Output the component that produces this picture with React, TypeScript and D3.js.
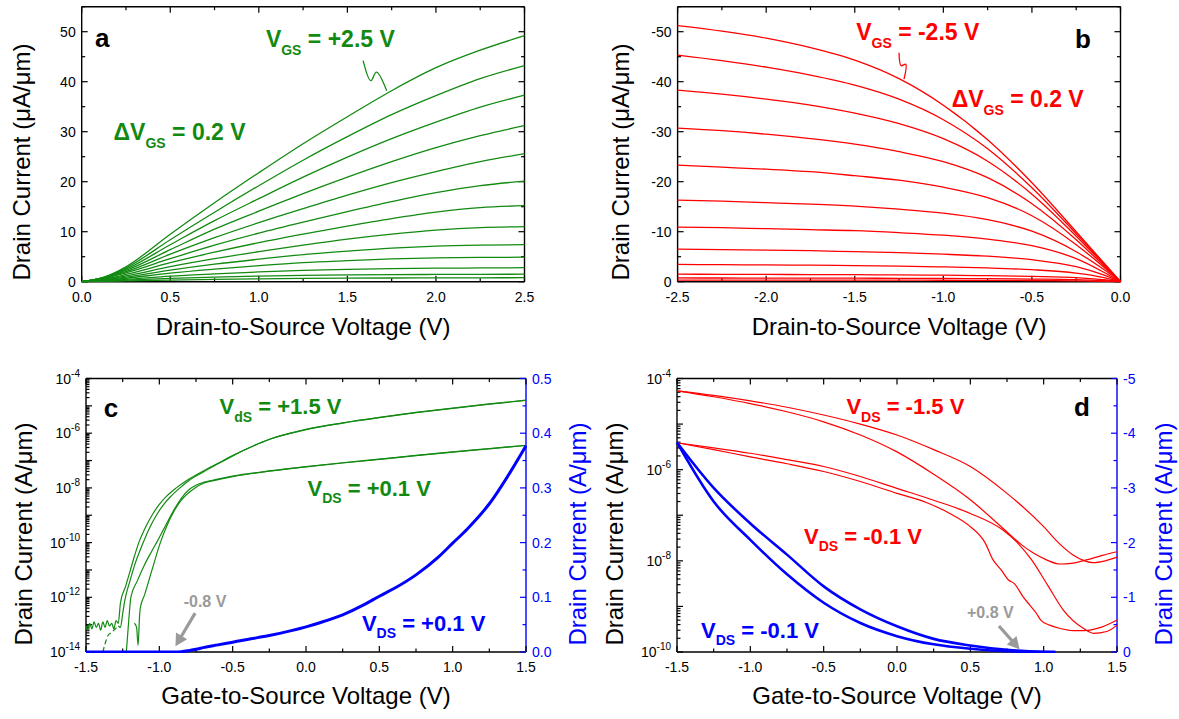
import React from 'react';
import * as d3 from 'd3';

const FONT = "'Liberation Sans', Arial, Helvetica, sans-serif";
const GREEN = '#128a12';
const RED = '#ff0000';
const BLUE = '#0000ff';
const GRAY = '#9a9a9a';

type Pt = [number, number];

// ---------- Panel a : n-type output curves (uA/um) ----------
const VDS_A = [0, 0.125, 0.25, 0.5, 0.75, 1.0, 1.25, 1.5, 1.75, 2.0, 2.25, 2.5];
const IDS_A: number[][] = [
  [0, 0.9, 3.0, 9.5, 15.8, 21.8, 27.6, 33.0, 38.2, 42.8, 46.3, 49.2],
  [0, 0.85, 2.75, 8.4, 13.9, 19.2, 24.3, 29.0, 33.4, 37.2, 40.6, 43.2],
  [0, 0.8, 2.5, 7.4, 12.2, 16.6, 20.9, 24.9, 28.6, 31.9, 34.9, 37.3],
  [0, 0.75, 2.25, 6.4, 10.5, 14.1, 17.6, 20.9, 24.0, 26.8, 29.2, 31.2],
  [0, 0.7, 2.0, 5.5, 8.8, 11.8, 14.6, 17.3, 19.8, 22.0, 24.0, 25.6],
  [0, 0.6, 1.75, 4.6, 7.3, 9.7, 11.9, 14.0, 16.0, 17.8, 19.2, 20.1],
  [0, 0.52, 1.45, 3.8, 5.9, 7.8, 9.5, 11.1, 12.6, 13.9, 14.8, 15.2],
  [0, 0.42, 1.15, 3.0, 4.6, 6.0, 7.3, 8.5, 9.5, 10.3, 10.8, 11.0],
  [0, 0.33, 0.9, 2.3, 3.5, 4.5, 5.4, 6.1, 6.7, 7.1, 7.3, 7.4],
  [0, 0.25, 0.68, 1.7, 2.5, 3.2, 3.8, 4.2, 4.55, 4.75, 4.85, 4.9],
  [0, 0.17, 0.45, 1.1, 1.55, 1.95, 2.25, 2.45, 2.6, 2.7, 2.75, 2.8],
  [0, 0.11, 0.3, 0.65, 0.92, 1.12, 1.27, 1.36, 1.42, 1.45, 1.47, 1.5],
  [0, 0.06, 0.15, 0.33, 0.48, 0.58, 0.65, 0.7, 0.74, 0.76, 0.78, 0.8],
];

// ---------- Panel b : p-type output curves (uA/um) ----------
const VDS_B = [-2.5, -2.25, -2.0, -1.75, -1.5, -1.25, -1.0, -0.75, -0.5, -0.25, -0.1, 0];
const IDS_B: number[][] = [
  [-51.2, -50.1, -48.7, -46.8, -44.3, -40.6, -35.3, -28.4, -19.8, -10.0, -4.0, 0],
  [-45.3, -44.2, -42.9, -41.3, -39.3, -36.5, -32.4, -26.6, -18.8, -9.6, -3.9, 0],
  [-38.3, -37.5, -36.5, -35.3, -33.7, -31.6, -28.6, -24.1, -17.5, -9.1, -3.7, 0],
  [-30.7, -30.2, -29.5, -28.6, -27.5, -26.0, -24.0, -20.8, -15.6, -8.4, -3.4, 0],
  [-23.3, -22.9, -22.5, -22.0, -21.2, -20.3, -18.9, -16.8, -13.2, -7.4, -3.1, 0],
  [-16.3, -16.1, -15.8, -15.5, -15.1, -14.5, -13.7, -12.4, -10.1, -6.0, -2.6, 0],
  [-10.9, -10.8, -10.6, -10.4, -10.2, -9.8, -9.3, -8.5, -7.2, -4.6, -2.0, 0],
  [-6.5, -6.4, -6.3, -6.2, -6.0, -5.8, -5.5, -5.1, -4.4, -3.0, -1.4, 0],
  [-3.45, -3.4, -3.35, -3.3, -3.2, -3.1, -2.95, -2.75, -2.4, -1.7, -0.85, 0],
  [-1.5, -1.48, -1.45, -1.43, -1.4, -1.35, -1.3, -1.2, -1.05, -0.8, -0.4, 0],
  [-0.75, -0.74, -0.73, -0.72, -0.7, -0.68, -0.65, -0.6, -0.53, -0.4, -0.2, 0],
  [-0.33, -0.33, -0.32, -0.32, -0.31, -0.3, -0.29, -0.27, -0.24, -0.18, -0.09, 0],
];

// ---------- Panel c : n-type transfer, log10(Id) in A/um ----------
const C_LOG_VDS15_FWD: Pt[] = [
  [-1.5, -13.05], [-1.49, -13.2], [-1.475, -12.95], [-1.46, -13.15], [-1.445, -12.9], [-1.43, -13.1],
  [-1.415, -12.95], [-1.4, -13.2], [-1.385, -12.9], [-1.37, -13.1], [-1.355, -12.85], [-1.34, -13.05],
  [-1.325, -12.95], [-1.31, -13.15], [-1.295, -12.85], [-1.28, -12.95], [-1.265, -12.2], [-1.23, -11.6],
  [-1.2, -11.05], [-1.17, -10.5], [-1.14, -10.0], [-1.1, -9.5], [-1.05, -9.0], [-1.0, -8.6], [-0.95, -8.3],
  [-0.885, -8.0], [-0.8, -7.68], [-0.7, -7.38], [-0.6, -7.1], [-0.5, -6.82], [-0.4, -6.56], [-0.25, -6.22],
  [-0.1, -5.99], [0, -5.86], [0.25, -5.62], [0.5, -5.42], [0.75, -5.24], [1.0, -5.08], [1.25, -4.93], [1.5, -4.79],
];
const C_LOG_VDS15_REV_TAIL: Pt[] = [
  [-1.385, -14], [-1.37, -13.7], [-1.35, -13.4], [-1.33, -13.3], [-1.3, -13.15], [-1.28, -13.05],
];
const C_LOG_VDS15_REV: Pt[] = [
  [-1.28, -13.05], [-1.265, -13.1], [-1.25, -12.6], [-1.235, -12.1], [-1.2, -11.4], [-1.17, -10.85],
  [-1.11, -10.0], [-1.07, -9.5], [-1.02, -9.0], [-0.97, -8.6], [-0.92, -8.3], [-0.86, -8.0], [-0.8, -7.74],
  [-0.7, -7.42], [-0.6, -7.12], [-0.5, -6.83], [-0.4, -6.57], [-0.25, -6.23], [-0.1, -6.0], [0, -5.87],
  [0.25, -5.63], [0.5, -5.43], [0.75, -5.25], [1.0, -5.09], [1.25, -4.94], [1.5, -4.8],
];
const C_LOG_VDS01_FWD: Pt[] = [
  [-1.225, -14], [-1.215, -13.3], [-1.205, -12.6], [-1.194, -12.0], [-1.15, -11.4], [-1.1, -10.8],
  [-1.05, -10.3], [-1.019, -10.0], [-0.95, -9.3], [-0.9, -8.8], [-0.85, -8.38], [-0.795, -8.05],
  [-0.75, -7.9], [-0.7, -7.8], [-0.6, -7.68], [-0.5, -7.57], [-0.25, -7.38], [0, -7.22], [0.25, -7.08],
  [0.5, -6.95], [0.75, -6.81], [1.0, -6.68], [1.25, -6.56], [1.5, -6.44],
];
const C_LOG_VDS01_REV: Pt[] = [
  [-1.17, -12.95], [-1.155, -13.1], [-1.145, -13.75], [-1.135, -12.7], [-1.13, -12.4], [-1.1, -11.9],
  [-1.05, -11.0], [-0.993, -10.0], [-0.95, -9.4], [-0.9, -8.85], [-0.85, -8.45], [-0.757, -8.0],
  [-0.7, -7.83], [-0.6, -7.7], [-0.5, -7.59], [-0.25, -7.39], [0, -7.23], [0.25, -7.09], [0.5, -6.96],
  [0.75, -6.82], [1.0, -6.69], [1.25, -6.57], [1.5, -6.45],
];
// linear Id (right axis, "A/um" as labelled)
const VGS_C_LIN = [-1.5, -1.2, -0.9, -0.85, -0.8, -0.75, -0.7, -0.6, -0.5, -0.4, -0.25, -0.1, 0, 0.1, 0.25, 0.4, 0.5, 0.6, 0.75, 0.9, 1.0, 1.1, 1.25, 1.4, 1.5];
const ID_C_LIN = [0, 0, 0, 0.0005, 0.0024, 0.005, 0.008, 0.013, 0.018, 0.023, 0.03, 0.039, 0.046, 0.054, 0.068, 0.087, 0.102, 0.116, 0.141, 0.173, 0.199, 0.225, 0.271, 0.332, 0.377];

// ---------- Panel d : p-type transfer, log10(|Id|) ----------
const D_LOG_VDS15_A: Pt[] = [
  [-1.5, -4.27], [-1.25, -4.37], [-1.0, -4.49], [-0.75, -4.63], [-0.5, -4.8], [-0.25, -5.0], [0, -5.24],
  [0.25, -5.56], [0.5, -5.93], [0.75, -6.52], [1.0, -7.25], [1.1, -7.6], [1.2, -7.87], [1.28, -8.0],
  [1.336, -8.04], [1.42, -8.0], [1.5, -7.92],
];
const D_LOG_VDS15_B: Pt[] = [
  [-1.5, -4.27], [-1.25, -4.4], [-1.0, -4.55], [-0.75, -4.73], [-0.5, -4.95], [-0.25, -5.24], [0, -5.61],
  [0.25, -6.1], [0.5, -6.66], [0.72, -7.28], [0.85, -7.65], [0.93, -7.83], [1.02, -7.98], [1.11, -8.07],
  [1.2, -8.05], [1.29, -7.98], [1.4, -7.88], [1.5, -7.8],
];
const D_LOG_VDS01_A: Pt[] = [
  [-1.5, -5.41], [-1.25, -5.52], [-1.0, -5.64], [-0.75, -5.78], [-0.5, -5.93], [-0.25, -6.15], [0, -6.41],
  [0.25, -6.67], [0.5, -6.96], [0.72, -7.32], [0.82, -7.6], [0.918, -7.98], [1.03, -8.55], [1.134, -9.08],
  [1.27, -9.48], [1.34, -9.59], [1.43, -9.55], [1.5, -9.41],
];
const D_LOG_VDS01_B: Pt[] = [
  [-1.5, -5.41], [-1.25, -5.56], [-1.0, -5.72], [-0.75, -5.87], [-0.5, -6.04], [-0.25, -6.26], [0, -6.52],
  [0.2, -6.72], [0.36, -6.96], [0.5, -7.25], [0.6, -7.6], [0.655, -7.98], [0.71, -8.2], [0.76, -8.42],
  [0.8, -8.5], [0.86, -8.79], [0.9, -8.95], [0.95, -9.15], [0.98, -9.3], [1.04, -9.41], [1.12, -9.49],
  [1.2, -9.53], [1.27, -9.53], [1.4, -9.45], [1.5, -9.3],
];
const VGS_D_LIN = [-1.5, -1.25, -1.0, -0.75, -0.5, -0.25, 0, 0.25, 0.5, 0.75, 1.0, 1.08];
const ID_D_LIN_A = [-3.83, -3.0, -2.35, -1.78, -1.2, -0.78, -0.47, -0.24, -0.12, -0.04, -0.005, 0];
const ID_D_LIN_B = [-3.83, -2.75, -2.05, -1.42, -0.9, -0.53, -0.29, -0.14, -0.06, -0.015, 0, 0];

// ---------- tick definitions ----------
const A_X_TICKS = [0, 0.5, 1.0, 1.5, 2.0, 2.5];
const A_Y_TICKS = [0, 10, 20, 30, 40, 50];
const B_X_TICKS = [-2.5, -2.0, -1.5, -1.0, -0.5, 0];
const B_Y_TICKS = [0, -10, -20, -30, -40, -50];
const CD_X_TICKS = [-1.5, -1.0, -0.5, 0, 0.5, 1.0, 1.5];
const C_LOG_DECADES = [-14, -13, -12, -11, -10, -9, -8, -7, -6, -5, -4];
const C_LOG_LABELS = [-14, -12, -10, -8, -6, -4];
const C_R_TICKS = [0, 0.1, 0.2, 0.3, 0.4, 0.5];
const D_LOG_DECADES = [-10, -9, -8, -7, -6, -5, -4];
const D_LOG_LABELS = [-10, -8, -6, -4];
const D_R_TICKS = [0, -1, -2, -3, -4, -5];

const fmt1 = (v: number) => (Math.abs(v) < 1e-9 ? '0.0' : v.toFixed(1));
const fmt0 = (v: number) => (Math.abs(v) < 1e-9 ? '0' : String(v));

function halfSteps(major: number[]): number[] {
  const out: number[] = [];
  for (let i = 0; i < major.length - 1; i++) out.push((major[i] + major[i + 1]) / 2);
  return out;
}
function logMinors(decades: number[]): number[] {
  const out: number[] = [];
  for (let i = 0; i < decades.length - 1; i++) {
    for (let k = 2; k <= 9; k++) out.push(Math.pow(10, decades[i]) * k);
  }
  return out;
}

type AxesProps = {
  id: string;
  x: any; y: any; yR?: any;
  xMajor: number[]; xMinor: number[]; xFmt: (v: number) => string;
  yMajor: number[]; yMinor: number[]; yLabels: { v: number; node: React.ReactNode }[];
  yRMajor?: number[]; yRMinor?: number[]; yRFmt?: (v: number) => string; rColor?: string;
  xTitle: string; xTitleDy: number;
  yTitle: string; yTitleX: number; yTitleY: number;
  yRTitle?: string; yRTitleX?: number;
  children?: React.ReactNode;
};

function Axes(p: AxesProps) {
  const [x0, x1] = p.x.range();
  const [yb, yt] = p.y.range();
  const M = 6, m = 3.5;
  const ticks: React.ReactNode[] = [];
  let k = 0;
  const L = (a: number, b: number, c: number, d: number, col = '#000') =>
    ticks.push(<line key={k++} x1={a} y1={b} x2={c} y2={d} stroke={col} strokeWidth={1.2} />);
  p.xMajor.forEach((v) => { const X = p.x(v); L(X, yb, X, yb - M); L(X, yt, X, yt + M); });
  p.xMinor.forEach((v) => { const X = p.x(v); L(X, yb, X, yb - m); L(X, yt, X, yt + m); });
  p.yMajor.forEach((v) => { const Y = p.y(v); L(x0, Y, x0 + M, Y); if (!p.yR) L(x1, Y, x1 - M, Y); });
  p.yMinor.forEach((v) => { const Y = p.y(v); L(x0, Y, x0 + m, Y); if (!p.yR) L(x1, Y, x1 - m, Y); });
  const rc = p.rColor || '#000';
  if (p.yR) {
    (p.yRMajor || []).forEach((v) => { const Y = p.yR(v); L(x1, Y, x1 - M, Y, rc); });
    (p.yRMinor || []).forEach((v) => { const Y = p.yR(v); L(x1, Y, x1 - m, Y, rc); });
  }
  return (
    <g fontFamily={FONT}>
      <defs>
        <clipPath id={p.id}>
          <rect x={x0 - 1} y={yt - 1} width={x1 - x0 + 2} height={yb - yt + 2} />
        </clipPath>
      </defs>
      <line x1={x0} y1={yb} x2={x1} y2={yb} stroke="#000" strokeWidth={1.4} />
      <line x1={x0} y1={yt} x2={x1} y2={yt} stroke="#000" strokeWidth={1.4} />
      <line x1={x0} y1={yt} x2={x0} y2={yb} stroke="#000" strokeWidth={1.4} />
      <line x1={x1} y1={yt} x2={x1} y2={yb} stroke={rc} strokeWidth={1.4} />
      {ticks}
      {p.xMajor.map((v, i) => (
        <text key={'xl' + i} x={p.x(v)} y={yb + 20} fontSize={14} textAnchor="middle" fill="#000">{p.xFmt(v)}</text>
      ))}
      {p.yLabels.map((t, i) => (
        <text key={'yl' + i} x={x0 - 6} y={p.y(t.v) + 5} fontSize={14} textAnchor="end" fill="#000">{t.node}</text>
      ))}
      {p.yR && (p.yRMajor || []).map((v, i) => (
        <text key={'yr' + i} x={x1 + 6} y={p.yR(v) + 5} fontSize={14} textAnchor="start" fill={rc}>{p.yRFmt!(v)}</text>
      ))}
      <text x={(x0 + x1) / 2} y={yb + p.xTitleDy} fontSize={24} textAnchor="middle" fill="#000">{p.xTitle}</text>
      <text transform={`translate(${p.yTitleX + 8},${p.yTitleY}) rotate(-90)`} fontSize={24} textAnchor="middle" fill="#000">{p.yTitle}</text>
      {p.yRTitle && (
        <text transform={`translate(${(p.yRTitleX || 0) + 8},${p.yTitleY}) rotate(-90)`} fontSize={24} textAnchor="middle" fill={rc}>{p.yRTitle}</text>
      )}
      <g clipPath={`url(#${p.id})`}>{p.children}</g>
    </g>
  );
}

function SubText(props: { x: number; y: number; pre: string; sub: string; post: string; fill: string; size: number; subSize: number }) {
  const dy = props.size * 0.34;
  return (
    <text x={props.x} y={props.y} fill={props.fill} fontFamily={FONT} fontWeight="bold" fontSize={props.size}>
      <tspan>{props.pre}</tspan>
      <tspan fontSize={props.subSize} dy={dy}>{props.sub}</tspan>
      <tspan dy={-dy}>{props.post}</tspan>
    </text>
  );
}

function Arrow(props: { from: Pt; to: Pt; color: string }) {
  const [ax, ay] = props.from, [bx, by] = props.to;
  const dx = bx - ax, dy = by - ay;
  const len = Math.hypot(dx, dy);
  const ux = dx / len, uy = dy / len;
  const hl = 12, hw = 6.5;
  const baseX = bx - ux * hl, baseY = by - uy * hl;
  const pts = `${bx},${by} ${baseX - uy * hw},${baseY + ux * hw} ${baseX + uy * hw},${baseY - ux * hw}`;
  return (
    <g>
      <line x1={ax} y1={ay} x2={baseX + ux * 1} y2={baseY + uy * 1} stroke={props.color} strokeWidth={3.2} />
      <polygon points={pts} fill={props.color} />
    </g>
  );
}

const logLabel = (e: number) => (
  <>
    <tspan>10</tspan>
    <tspan fontSize={10} dy={-7}>{String(e)}</tspan>
  </>
);

export default function App() {
  // scales
  const xA = d3.scaleLinear().domain([0, 2.5]).range([81.7, 524.5]);
  const yA = d3.scaleLinear().domain([0, 55]).range([281.7, 6.7]);
  const xB = d3.scaleLinear().domain([-2.5, 0]).range([677.6, 1120.5]);
  const yB = d3.scaleLinear().domain([0, -55]).range([281.7, 6.7]);
  const xC = d3.scaleLinear().domain([-1.5, 1.5]).range([86, 526]);
  const yC = d3.scaleLog().domain([1e-14, 1e-4]).range([652, 378.5]);
  const yCR = d3.scaleLinear().domain([0, 0.5]).range([652, 378.5]);
  const xD = d3.scaleLinear().domain([-1.5, 1.5]).range([677, 1117]);
  const yD = d3.scaleLog().domain([1e-10, 1e-4]).range([652, 378.5]);
  const yDR = d3.scaleLinear().domain([0, -5]).range([652, 378.5]);

  const lineA = d3.line<number>().x((_, i) => xA(VDS_A[i])).y((d) => yA(d)).curve(d3.curveMonotoneX);
  const lineB = d3.line<number>().x((_, i) => xB(VDS_B[i])).y((d) => yB(d)).curve(d3.curveMonotoneX);
  const logLineC = d3.line<Pt>().x((d) => xC(d[0])).y((d) => yC(Math.pow(10, d[1]))).curve(d3.curveMonotoneX);
  const linLineC = d3.line<number>().x((_, i) => xC(VGS_C_LIN[i])).y((d) => yCR(d)).curve(d3.curveMonotoneX);
  const logLineD = d3.line<Pt>().x((d) => xD(d[0])).y((d) => yD(Math.pow(10, d[1]))).curve(d3.curveMonotoneX);
  const linLineD = d3.line<number>().x((_, i) => xD(VGS_D_LIN[i])).y((d) => yDR(d)).curve(d3.curveMonotoneX);
  const squig = d3.line<Pt>().curve(d3.curveCatmullRom.alpha(0.5));

  const sqA: Pt[] = [[1.589, 44.2], [1.632, 40.2], [1.664, 41.9], [1.722, 38.2]];
  const sqB: Pt[] = [[-1.25, -45.8], [-1.238, -43.2], [-1.212, -43.5], [-1.222, -40.5]];

  const lp = (v: number) => 10 ** v;

  return (
    <svg width={1179} height={719} style={{ position: 'absolute', left: 0, top: 0, background: '#fff' }}>
      {/* ---------------- Panel a ---------------- */}
      <Axes id="clipA" x={xA} y={yA}
        xMajor={A_X_TICKS} xMinor={halfSteps(A_X_TICKS)} xFmt={fmt1}
        yMajor={A_Y_TICKS} yMinor={[...halfSteps(A_Y_TICKS), 55]}
        yLabels={A_Y_TICKS.map((v) => ({ v, node: fmt0(v) }))}
        xTitle="Drain-to-Source Voltage (V)" xTitleDy={53}
        yTitle="Drain Current (μA/μm)" yTitleX={22} yTitleY={162}>
        {IDS_A.map((c, i) => (
          <path key={i} d={lineA(c) || ''} fill="none" stroke={GREEN} strokeWidth={1.3} />
        ))}
      </Axes>
      <text x={xA(0.075)} y={yA(46.9)} fontFamily={FONT} fontWeight="bold" fontSize={26}>a</text>
      <SubText x={xA(1.04)} y={yA(46.9)} pre="V" sub="GS" post=" = +2.5 V" fill={GREEN} size={23} subSize={14} />
      <SubText x={xA(0.18)} y={yA(28.4)} pre="ΔV" sub="GS" post=" = 0.2 V" fill={GREEN} size={23} subSize={14} />
      <path d={squig(sqA.map((d) => [xA(d[0]), yA(d[1])] as Pt)) || ''} fill="none" stroke={GREEN} strokeWidth={1.3} />

      {/* ---------------- Panel b ---------------- */}
      <Axes id="clipB" x={xB} y={yB}
        xMajor={B_X_TICKS} xMinor={halfSteps(B_X_TICKS)} xFmt={fmt1}
        yMajor={B_Y_TICKS} yMinor={[...halfSteps(B_Y_TICKS), -55]}
        yLabels={B_Y_TICKS.map((v) => ({ v, node: fmt0(v) }))}
        xTitle="Drain-to-Source Voltage (V)" xTitleDy={53}
        yTitle="Drain Current (μA/μm)" yTitleX={621} yTitleY={162}>
        {IDS_B.map((c, i) => (
          <path key={i} d={lineB(c) || ''} fill="none" stroke={RED} strokeWidth={1.3} />
        ))}
      </Axes>
      <text x={xB(-0.257)} y={yB(-46.8)} fontFamily={FONT} fontWeight="bold" fontSize={26}>b</text>
      <SubText x={xB(-1.492)} y={yB(-48.3)} pre="V" sub="GS" post=" = -2.5 V" fill={RED} size={23} subSize={14} />
      <SubText x={xB(-0.953)} y={yB(-35)} pre="ΔV" sub="GS" post=" = 0.2 V" fill={RED} size={23} subSize={14} />
      <path d={squig(sqB.map((d) => [xB(d[0]), yB(d[1])] as Pt)) || ''} fill="none" stroke={RED} strokeWidth={1.3} />

      {/* ---------------- Panel c ---------------- */}
      <Axes id="clipC" x={xC} y={yC} yR={yCR}
        xMajor={CD_X_TICKS} xMinor={halfSteps(CD_X_TICKS)} xFmt={fmt1}
        yMajor={C_LOG_DECADES.map(lp)} yMinor={logMinors(C_LOG_DECADES)}
        yLabels={C_LOG_LABELS.map((e) => ({ v: lp(e), node: logLabel(e) }))}
        yRMajor={C_R_TICKS} yRMinor={halfSteps(C_R_TICKS)} yRFmt={fmt1} rColor={BLUE}
        xTitle="Gate-to-Source Voltage (V)" xTitleDy={52}
        yTitle="Drain Current (A/μm)" yTitleX={24} yTitleY={534}
        yRTitle="Drain Current (A/μm)" yRTitleX={578}>
        <path d={logLineC(C_LOG_VDS15_FWD) || ''} fill="none" stroke={GREEN} strokeWidth={1.2} />
        <path d={logLineC(C_LOG_VDS15_REV) || ''} fill="none" stroke={GREEN} strokeWidth={1.2} />
        <path d={logLineC(C_LOG_VDS15_REV_TAIL) || ''} fill="none" stroke={GREEN} strokeWidth={1.2} strokeDasharray="5 3" />
        <path d={logLineC(C_LOG_VDS01_FWD) || ''} fill="none" stroke={GREEN} strokeWidth={1.2} />
        <path d={logLineC(C_LOG_VDS01_REV) || ''} fill="none" stroke={GREEN} strokeWidth={1.2} />
        <path d={linLineC(ID_C_LIN) || ''} fill="none" stroke={BLUE} strokeWidth={3} />
      </Axes>
      <text x={xC(-1.379)} y={yC(lp(-5.404))} fontFamily={FONT} fontWeight="bold" fontSize={26}>c</text>
      <SubText x={xC(-0.589)} y={yC(lp(-5.309))} pre="V" sub="dS" post=" = +1.5 V" fill={GREEN} size={22} subSize={14} />
      <SubText x={xC(0.01)} y={yC(lp(-8.278))} pre="V" sub="DS" post=" = +0.1 V" fill={GREEN} size={22} subSize={14} />
      <SubText x={xC(0.381)} y={yC(lp(-13.225))} pre="V" sub="DS" post=" = +0.1 V" fill={BLUE} size={22} subSize={14} />
      <text x={xC(-0.834)} y={yC(lp(-12.34))} fontFamily={FONT} fontWeight="bold" fontSize={16} fill={GRAY}>-0.8 V</text>
      <Arrow from={[xC(-0.756), yC(lp(-12.58))]} to={[xC(-0.89), yC(lp(-13.79))]} color={GRAY} />

      {/* ---------------- Panel d ---------------- */}
      <Axes id="clipD" x={xD} y={yD} yR={yDR}
        xMajor={CD_X_TICKS} xMinor={halfSteps(CD_X_TICKS)} xFmt={fmt1}
        yMajor={D_LOG_DECADES.map(lp)} yMinor={logMinors(D_LOG_DECADES)}
        yLabels={D_LOG_LABELS.map((e) => ({ v: lp(e), node: logLabel(e) }))}
        yRMajor={D_R_TICKS} yRMinor={halfSteps(D_R_TICKS)} yRFmt={fmt0} rColor={BLUE}
        xTitle="Gate-to-Source Voltage (V)" xTitleDy={52}
        yTitle="Drain Current (A/μm)" yTitleX={615} yTitleY={534}
        yRTitle="Drain Current (A/μm)" yRTitleX={1164}>
        <path d={logLineD(D_LOG_VDS15_A) || ''} fill="none" stroke={RED} strokeWidth={1.2} />
        <path d={logLineD(D_LOG_VDS15_B) || ''} fill="none" stroke={RED} strokeWidth={1.2} />
        <path d={logLineD(D_LOG_VDS01_A) || ''} fill="none" stroke={RED} strokeWidth={1.2} />
        <path d={logLineD(D_LOG_VDS01_B) || ''} fill="none" stroke={RED} strokeWidth={1.2} />
        <path d={linLineD(ID_D_LIN_A) || ''} fill="none" stroke={BLUE} strokeWidth={2.6} />
        <path d={linLineD(ID_D_LIN_B) || ''} fill="none" stroke={BLUE} strokeWidth={2.6} />
      </Axes>
      <text x={xD(1.207)} y={yD(lp(-4.823))} fontFamily={FONT} fontWeight="bold" fontSize={26}>d</text>
      <SubText x={xD(-0.345)} y={yD(lp(-4.781))} pre="V" sub="DS" post=" = -1.5 V" fill={RED} size={22} subSize={14} />
      <SubText x={xD(-0.634)} y={yD(lp(-7.624))} pre="V" sub="DS" post=" = -0.1 V" fill={RED} size={22} subSize={14} />
      <SubText x={xD(-1.336)} y={yD(lp(-9.687))} pre="V" sub="DS" post=" = -0.1 V" fill={BLUE} size={22} subSize={14} />
      <text x={xD(0.477)} y={yD(lp(-9.25))} fontFamily={FONT} fontWeight="bold" fontSize={16} fill={GRAY}>+0.8 V</text>
      <Arrow from={[xD(0.695), yD(lp(-9.43))]} to={[xD(0.836), yD(lp(-9.94))]} color={GRAY} />
    </svg>
  );
}
